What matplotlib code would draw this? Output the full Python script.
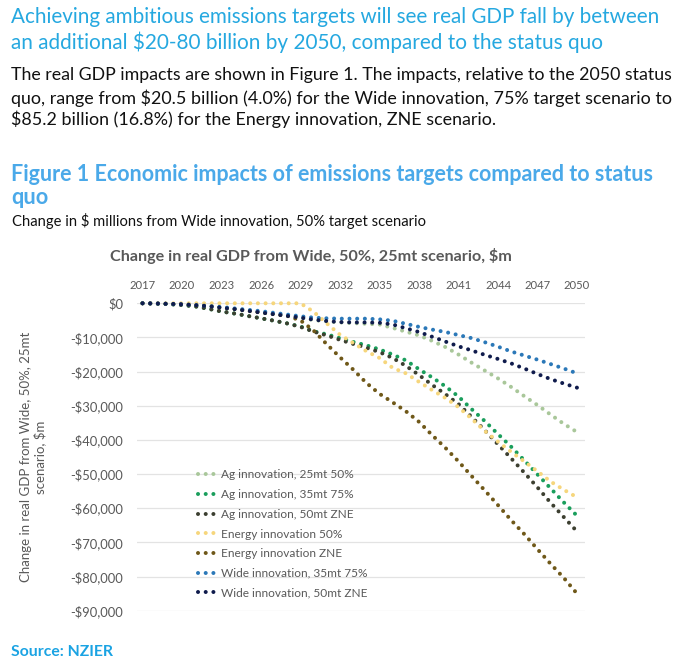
import matplotlib
matplotlib.use('Agg')
import matplotlib.pyplot as plt

# ---------------- data ----------------
years = list(range(2017, 2051))
x_ticks = list(range(2017, 2051, 3))
y_ticks = [0, -10000, -20000, -30000, -40000, -50000, -60000, -70000, -80000, -90000]
y_tick_labels = ['$0', '-$10,000', '-$20,000', '-$30,000', '-$40,000', '-$50,000',
                 '-$60,000', '-$70,000', '-$80,000', '-$90,000']

series_names = ['Ag innovation, 25mt 50%', 'Ag innovation, 35mt 75%', 'Ag innovation, 50mt ZNE',
                'Energy innovation 50%', 'Energy innovation ZNE',
                'Wide innovation, 35mt 75%', 'Wide innovation, 50mt ZNE']

ag_25mt_50 = [0, -50, -150, -300, -550, -850, -1300, -1700, -2200, -2700, -3200, -3700, -4200,
              -4900, -5300, -5600, -5800, -6000, -6200, -7200, -8300, -9400, -11000, -12800,
              -15000, -17400, -19700, -22000, -24500, -27200, -29800, -32600, -35300, -37700]
ag_35mt_75 = [0, -100, -250, -500, -900, -1600, -2400, -3000, -3700, -4400, -5100, -5900, -6800,
              -8200, -9100, -10200, -11300, -12300, -13500, -15000, -16700, -19300, -21700, -24300,
              -27300, -31000, -34500, -38300, -42000, -46000, -50100, -54200, -58300, -62200]
ag_50mt_zne = [0, -100, -250, -500, -900, -1600, -2400, -3000, -3700, -4400, -5100, -5900, -6900,
               -8300, -9400, -10700, -11900, -13000, -14300, -16000, -18300, -21000, -23900, -26600,
               -29500, -33300, -37200, -41300, -45400, -49600, -53900, -58400, -62600, -66800]
energy_50 = [0, 0, 0, 0, 0, 0, 0, 0, 0, 0, 0, 0, 0,
             -2500, -5900, -9200, -11600, -14000, -16000, -18900, -20500, -23000, -25400, -27700,
             -30400, -33800, -37400, -40500, -43500, -46300, -49200, -52200, -54600, -56800]
energy_zne = [0, -50, -150, -300, -550, -850, -1300, -1700, -2200, -2700, -3200, -3700, -5000,
              -8000, -12000, -15800, -19400, -23300, -26500, -29000, -31600, -34700, -38600, -42300,
              -46300, -50600, -54800, -59100, -63500, -67600, -72000, -76300, -80400, -85000]
wide_35mt_75 = [0, -50, -150, -300, -500, -800, -1100, -1500, -1900, -2300, -2800, -3300, -3800,
                -4200, -4400, -4500, -4500, -4500, -4700, -5100, -6000, -6900, -7700, -8400,
                -9300, -10200, -11400, -12700, -14100, -15300, -16500, -17800, -19100, -20500]
wide_50mt_zne = [0, -50, -150, -300, -550, -850, -1300, -1700, -2200, -2700, -3200, -3700, -4200,
                 -4800, -5200, -5500, -5600, -5600, -5700, -6200, -7300, -8400, -9800, -11200,
                 -12600, -13800, -15100, -16300, -17600, -19100, -20700, -22200, -23500, -24700]

series_values = [ag_25mt_50, ag_35mt_75, ag_50mt_zne, energy_50, energy_zne, wide_35mt_75, wide_50mt_zne]
series_colors = ['#a9c79a', '#1a9e5c', '#3c3f30', '#f6d67c', '#6f5819', '#2b78b8', '#0f1b4c']

# ---------------- figure ----------------
W, H = 680, 667
plt.rcParams['font.family'] = ['Lato', 'DejaVu Sans']
fig = plt.figure(figsize=(W / 100, H / 100), dpi=100)
fig.patch.set_facecolor('white')

renderer = fig.canvas.get_renderer()


def fx(px):
    return px / W


def fy(py):
    return 1 - py / H


def size_for(s, target_w, **kw):
    t = fig.text(0, 0, s, fontsize=12, **kw)
    w = t.get_window_extent(renderer=renderer).width
    t.remove()
    return 12 * target_w / w


def fit_text(x, y, s, target_w, ha='left', **kw):
    fs = size_for(s, target_w, **{k: v for k, v in kw.items() if k == 'fontweight'})
    return fig.text(fx(x), fy(y), s, fontsize=fs, va='center', ha=ha, **kw)


title_col = '#25a8e0'
fit_text(11, 17, 'Achieving ambitious emissions targets will see real GDP fall by between', 648, color=title_col)
fit_text(11, 42, 'an additional $20-80 billion by 2050, compared to the status quo', 589, color=title_col)
body_col = '#111111'
fit_text(11, 75, 'The real GDP impacts are shown in Figure 1. The impacts, relative to the 2050 status', 656, color=body_col)
fit_text(11, 98, 'quo, range from $20.5 billion (4.0%) for the Wide innovation, 75% target scenario to', 656, color=body_col)
fit_text(11, 119, '$85.2 billion (16.8%) for the Energy innovation, ZNE scenario.', 482, color=body_col)
cap_col = '#4aa9e9'
fit_text(11, 174, 'Figure 1 Economic impacts of emissions targets compared to status', 639, color=cap_col, fontweight='bold')
fit_text(11, 197, 'quo', 37, color=cap_col, fontweight='bold')
fit_text(12, 221, 'Change in $ millions from Wide innovation, 50% target scenario', 411, color=body_col)
fit_text(11, 652, 'Source: NZIER', 102, color='#1aa3e3', fontweight='bold')

fit_text(110, 256, 'Change in real GDP from Wide, 50%, 25mt scenario, $m', 400,
         fontweight='bold', color='#595959')

ylab_fs = size_for('Change in real GDP from Wide, 50%, 25mt', 250)
fig.text(fx(33.5), fy(457), 'Change in real GDP from Wide, 50%, 25mt\nscenario, $m',
         rotation=90, fontsize=ylab_fs, color='#595959', ha='center', va='center',
         multialignment='center', linespacing=1.12)

tick_x_fs = size_for('2017', 26)
tick_y_fs = size_for('-$10,000', 53)
leg_fs = size_for('Ag innovation, 25mt 50%', 132)

# ---------------- axes ----------------
left_px, right_px, top_px, bot_px = 137, 585, 303.3, 610.7
ax = fig.add_axes([fx(left_px), fy(bot_px), (right_px - left_px) / W, (bot_px - top_px) / H])
ax.set_facecolor('none')

for name, vals, col in zip(series_names, series_values, series_colors):
    ax.plot(years, vals, color=col, lw=2.9, linestyle=(0, (0.01, 1.9)),
            dash_capstyle='round', label=name, clip_on=False)

px_per_year = (577 - 142.5) / 33
ax.set_xlim(2017 - (142.5 - left_px) / px_per_year, 2050 + (right_px - 577) / px_per_year)
ax.set_ylim(-90000, 0)

ax.set_xticks(x_ticks)
ax.set_xticklabels([str(v) for v in x_ticks], fontsize=tick_x_fs)
ax.xaxis.tick_top()
ax.set_yticks(y_ticks)
ax.set_yticklabels(y_tick_labels, fontsize=tick_y_fs)
ax.tick_params(axis='both', length=0, labelcolor='#595959')
ax.tick_params(axis='x', pad=8.5)
ax.tick_params(axis='y', pad=10)
for sp in ax.spines.values():
    sp.set_visible(False)
ax.grid(axis='y', color='#e3e3e3', lw=0.9)
ax.grid(axis='x', visible=False)
ax.set_axisbelow(True)

leg = ax.legend(loc='upper left', bbox_to_anchor=(fx(198), fy(469.5)), bbox_transform=fig.transFigure,
                frameon=False, fontsize=leg_fs, labelcolor='#595959', handlelength=1.4,
                handletextpad=0.55, labelspacing=0.73, borderpad=0, borderaxespad=0)

fig.savefig('out.png', dpi=100, facecolor='white')
